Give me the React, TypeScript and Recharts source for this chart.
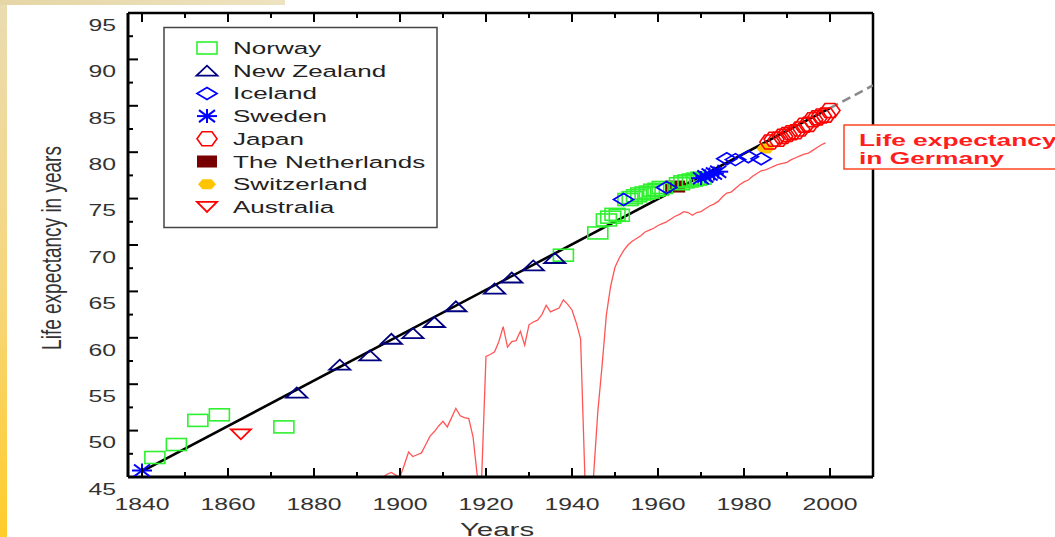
import React from "react";
import {
  ComposedChart,
  XAxis,
  YAxis,
  Line,
  Scatter,
  ReferenceLine,
} from "recharts";

// values: [year, life expectancy]
const norway = [
  [1843, 47.1], [1848, 48.5], [1853, 51.1], [1858, 51.7], [1873, 50.4],
  [1938, 68.9], [1946, 71.3], [1948, 72.7], [1949, 73.0], [1950, 73.3],
  [1951, 73.2], [1953, 74.9], [1954, 75.1], [1955, 75.3], [1956, 75.5],
  [1957, 75.6], [1958, 75.7], [1959, 75.9], [1960, 76.0], [1961, 76.2],
  [1965, 76.6], [1966, 76.8], [1967, 76.9], [1968, 77.0], [1969, 77.1],
  [1970, 77.2],
];
const newZealand = [
  [1876, 54.1], [1886, 57.1], [1893, 58.1], [1898, 59.9], [1903, 60.5],
  [1908, 61.7], [1913, 63.4], [1922, 65.3], [1926, 66.5], [1931, 67.8],
  [1936, 68.6],
];
const iceland = [
  [1952, 74.9], [1962, 76.2], [1976, 79.3], [1978, 79.2], [1981, 79.5],
  [1984, 79.3],
];
const sweden = [
  [1840, 45.7], [1970, 77.2], [1971, 77.4], [1972, 77.6], [1973, 77.7],
  [1974, 77.9],
];
const japan = [
  [1986, 81.1], [1987, 81.4], [1988, 81.4], [1989, 81.7], [1990, 81.9],
  [1991, 82.1], [1992, 82.2], [1993, 82.5], [1994, 82.9], [1995, 83.0],
  [1996, 83.5], [1997, 83.7], [1998, 83.9], [1999, 84.0], [2000, 84.5],
];
const netherlands = [[1964, 76.3]];
const switzerland = [[1985, 80.4]];
const australia = [[1863, 49.6]];

const germany = [
  [1895, 45.0], [1896, 45.0], [1897, 45.3], [1898, 45.5], [1899, 45.2],
  [1900, 45.0], [1901, 46.3], [1902, 47.7], [1903, 47.2], [1904, 47.4],
  [1905, 47.6], [1906, 48.5], [1907, 49.4], [1908, 49.9], [1909, 50.5],
  [1910, 51.0], [1911, 50.4], [1912, 51.4], [1913, 52.4], [1914, 51.6],
  [1915, 51.4], [1916, 51.3], [1917, 49.3], [1918, 45.0], [1919, 45.0],
  [1920, 58.0], [1921, 58.2], [1922, 58.5], [1923, 59.6], [1924, 61.2],
  [1925, 59.0], [1926, 59.6], [1927, 59.7], [1928, 60.7], [1929, 59.2],
  [1930, 61.4], [1931, 61.7], [1932, 61.9], [1933, 62.5], [1934, 63.5],
  [1935, 62.8], [1936, 63.0], [1937, 63.2], [1938, 64.1], [1939, 63.6],
  [1940, 63.0], [1941, 61.6], [1942, 59.9], [1943, 45.0], [1944, 45.0],
  [1945, 45.0], [1946, 52.0], [1947, 57.0], [1948, 62.5], [1949, 65.6],
  [1950, 67.6], [1951, 68.6], [1952, 69.4], [1953, 70.0], [1954, 70.4],
  [1955, 70.7], [1956, 71.0], [1957, 71.4], [1958, 71.6], [1959, 71.8],
  [1960, 72.1], [1961, 72.3], [1962, 72.5], [1963, 72.8], [1964, 73.1],
  [1965, 73.3], [1966, 73.6], [1967, 73.5], [1968, 73.2], [1969, 73.5],
  [1970, 73.6], [1971, 73.9], [1972, 74.2], [1973, 74.4], [1974, 74.7],
  [1975, 75.2], [1976, 75.6], [1977, 75.7], [1978, 76.1], [1979, 76.5],
  [1980, 76.8], [1981, 77.0], [1982, 77.4], [1983, 77.7], [1984, 78.0],
  [1985, 78.1], [1986, 78.3], [1987, 78.5], [1988, 78.7], [1989, 78.8],
  [1990, 78.9], [1991, 79.2], [1992, 79.4], [1993, 79.6], [1994, 79.8],
  [1995, 79.9], [1996, 80.2], [1997, 80.5], [1998, 80.8], [1999, 81.0],
];

const trendSolid = [[1840, 45.6], [2000, 84.75]];
const trendDashed = [[2000, 84.75], [2010, 87.2]];

const xTicks = [1840, 1850, 1860, 1870, 1880, 1890, 1900, 1910, 1920, 1930, 1940, 1950, 1960, 1970, 1980, 1990, 2000, 2010];
const yTicks = [45, 47.5, 50, 52.5, 55, 57.5, 60, 62.5, 65, 67.5, 70, 72.5, 75, 77.5, 80, 82.5, 85, 87.5, 90, 92.5, 95];

const pts = (arr: number[][]) => arr.map(([year, value]) => ({ year, value }));

const font = '"Liberation Sans", Arial, sans-serif';
const SX = 1.55; // the original slide is stretched sideways
const PLOT_H = 464;

// marker shapes
const shapes: Record<string, (cx: number, cy: number) => JSX.Element> = {
  norway: (cx, cy) => (
    <rect x={cx - 10} y={cy - 6} width={20} height={12} fill="none" stroke="#2ef02e" strokeWidth={1.6} />
  ),
  newZealand: (cx, cy) => (
    <polygon points={`${cx - 10.5},${cy + 5} ${cx + 10.5},${cy + 5} ${cx},${cy - 5}`} fill="none" stroke="#000080" strokeWidth={1.8} />
  ),
  iceland: (cx, cy) => (
    <polygon points={`${cx - 10},${cy} ${cx},${cy - 6} ${cx + 10},${cy} ${cx},${cy + 6}`} fill="none" stroke="#0000ff" strokeWidth={1.7} />
  ),
  sweden: (cx, cy) => (
    <g stroke="#0000ff" strokeWidth={2}>
      <line x1={cx - 10} y1={cy} x2={cx + 10} y2={cy} />
      <line x1={cx} y1={cy - 7} x2={cx} y2={cy + 7} />
      <line x1={cx - 8} y1={cy - 6} x2={cx + 8} y2={cy + 6} />
      <line x1={cx - 8} y1={cy + 6} x2={cx + 8} y2={cy - 6} />
    </g>
  ),
  japan: (cx, cy) => (
    <polygon
      points={`${cx - 10},${cy} ${cx - 5},${cy - 7} ${cx + 5},${cy - 7} ${cx + 10},${cy} ${cx + 5},${cy + 7} ${cx - 5},${cy + 7}`}
      fill="none" stroke="#ff0000" strokeWidth={1.6}
    />
  ),
  netherlands: (cx, cy) => (
    <rect x={cx - 10} y={cy - 6} width={20} height={12} fill="#780000" />
  ),
  switzerland: (cx, cy) => (
    <polygon
      points={`${cx - 9},${cy} ${cx - 4.5},${cy - 5} ${cx + 4.5},${cy - 5} ${cx + 9},${cy} ${cx + 4.5},${cy + 5} ${cx - 4.5},${cy + 5}`}
      fill="#ffc400"
    />
  ),
  australia: (cx, cy) => (
    <polygon points={`${cx - 10},${cy - 5} ${cx + 10},${cy - 5} ${cx},${cy + 5}`} fill="none" stroke="#ff0000" strokeWidth={1.8} />
  ),
};

const legendItems = [
  ["norway", "Norway"],
  ["newZealand", "New Zealand"],
  ["iceland", "Iceland"],
  ["sweden", "Sweden"],
  ["japan", "Japan"],
  ["netherlands", "The Netherlands"],
  ["switzerland", "Switzerland"],
  ["australia", "Australia"],
];

const markerShape = (key: string) => (props: any) => shapes[key](props.cx, props.cy);

const XTick = ({ x, y, payload }: any) => {
  const v = payload.value;
  const major = v % 20 === 0;
  const len = major ? 9 : 5;
  return (
    <g>
      <line x1={x} x2={x} y1={y} y2={y - len} stroke="#000" strokeWidth={2} />
      <line x1={x} x2={x} y1={y - PLOT_H} y2={y - PLOT_H + len} stroke="#000" strokeWidth={2} />
      {major && v <= 2000 && (
        <text transform={`translate(${x},${y + 33}) scale(${SX},1)`} textAnchor="middle" fontSize={16} fill="#333" fontFamily={font}>
          {v}
        </text>
      )}
    </g>
  );
};

const YTick = ({ x, y, payload }: any) => {
  const v = payload.value;
  const major = v % 5 === 0;
  return (
    <g>
      <line x1={x} x2={x + (major ? 10 : 5)} y1={y} y2={y} stroke="#000" strokeWidth={2} />
      {major && (
        <text transform={`translate(${x - 12},${y + 17.7}) scale(${SX},1)`} textAnchor="end" fontSize={16} fill="#333" fontFamily={font}>
          {v}
        </text>
      )}
    </g>
  );
};

export default function App() {
  return (
    <div style={{ position: "absolute", left: 0, top: 0, width: 1055, height: 537, overflow: "hidden", background: "#fff", fontFamily: font }}>
      <div style={{ position: "absolute", left: 0, top: 0, width: 7, height: 537, background: "linear-gradient(#eadcb2, #f6d67a 55%, #ffcc2a)" }} />
      <div style={{ position: "absolute", left: 0, top: 0, width: 285, height: 5, background: "linear-gradient(to right, #e6d6a6, #eee3c0)" }} />

      <div style={{ position: "absolute", left: 0, top: 0 }}>
        <ComposedChart width={1055} height={537} margin={{ top: 13, right: 182, bottom: 0, left: 0 }}>
          <XAxis
            type="number"
            dataKey="year"
            domain={[1836.75, 2010]}
            allowDataOverflow
            ticks={xTicks}
            interval={0}
            tick={<XTick />}
            tickLine={false}
            tickSize={0}
            tickMargin={0}
            height={60}
            axisLine={{ stroke: "#000", strokeWidth: 3 }}
          />
          <YAxis
            type="number"
            dataKey="value"
            domain={[45, 95]}
            allowDataOverflow
            ticks={yTicks}
            interval={0}
            tick={<YTick />}
            tickLine={false}
            tickSize={0}
            tickMargin={0}
            width={128}
            axisLine={{ stroke: "#000", strokeWidth: 3 }}
          />
          <ReferenceLine y={95} stroke="#000" strokeWidth={2.5} />
          <ReferenceLine x={2010} stroke="#000" strokeWidth={2.5} />

          <Line data={pts(germany)} dataKey="value" type="linear" stroke="#ff2a2a" strokeOpacity={0.8} strokeWidth={1.3} dot={false} isAnimationActive={false} />
          <Line data={pts(trendSolid)} dataKey="value" type="linear" stroke="#000" strokeWidth={2.6} dot={false} isAnimationActive={false} />
          <Line data={pts(trendDashed)} dataKey="value" type="linear" stroke="#8a8a8a" strokeWidth={2.6} strokeDasharray="9 5" dot={false} isAnimationActive={false} />

          <Scatter data={pts(switzerland)} shape={markerShape("switzerland")} isAnimationActive={false} />
          <Scatter data={pts(netherlands)} shape={markerShape("netherlands")} isAnimationActive={false} />
          <Scatter data={pts(australia)} shape={markerShape("australia")} isAnimationActive={false} />
          <Scatter data={pts(norway)} shape={markerShape("norway")} isAnimationActive={false} />
          <Scatter data={pts(newZealand)} shape={markerShape("newZealand")} isAnimationActive={false} />
          <Scatter data={pts(iceland)} shape={markerShape("iceland")} isAnimationActive={false} />
          <Scatter data={pts(sweden)} shape={markerShape("sweden")} isAnimationActive={false} />
          <Scatter data={pts(japan)} shape={markerShape("japan")} isAnimationActive={false} />
        </ComposedChart>
      </div>

      <svg width={1055} height={537} style={{ position: "absolute", left: 0, top: 0, pointerEvents: "none" }} fontFamily={font}>
        {/* axis titles */}
        <text transform={`translate(61,248) scale(1.45,1) rotate(-90)`} textAnchor="middle" fontSize={19} fill="#333">
          Life expectancy in years
        </text>
        <text transform={`translate(497,536) scale(${SX},1)`} textAnchor="middle" fontSize={19} fill="#333">
          Years
        </text>

        {/* legend */}
        <rect x={164} y={27.5} width={273} height={200} fill="#fff" stroke="#444" strokeWidth={1.5} />
        {legendItems.map(([key, label], i) => {
          const cy = 48 + i * 22.7;
          return (
            <g key={key}>
              {shapes[key](207, cy)}
              <text transform={`translate(233,${cy + 6}) scale(1.53,1)`} fontSize={17} fill="#222">
                {label}
              </text>
            </g>
          );
        })}

        {/* annotation */}
        <rect x={844} y={125} width={260} height={44} fill="#fff" stroke="#ff4422" strokeWidth={1.5} />
        <text transform={`translate(859,146) scale(${SX},1)`} fontSize={17} fontWeight="bold" fill="#ff1e1e">
          Life expectancy
        </text>
        <text transform={`translate(859,164) scale(${SX},1)`} fontSize={17} fontWeight="bold" fill="#ff1e1e">
          in Germany
        </text>
      </svg>
    </div>
  );
}
